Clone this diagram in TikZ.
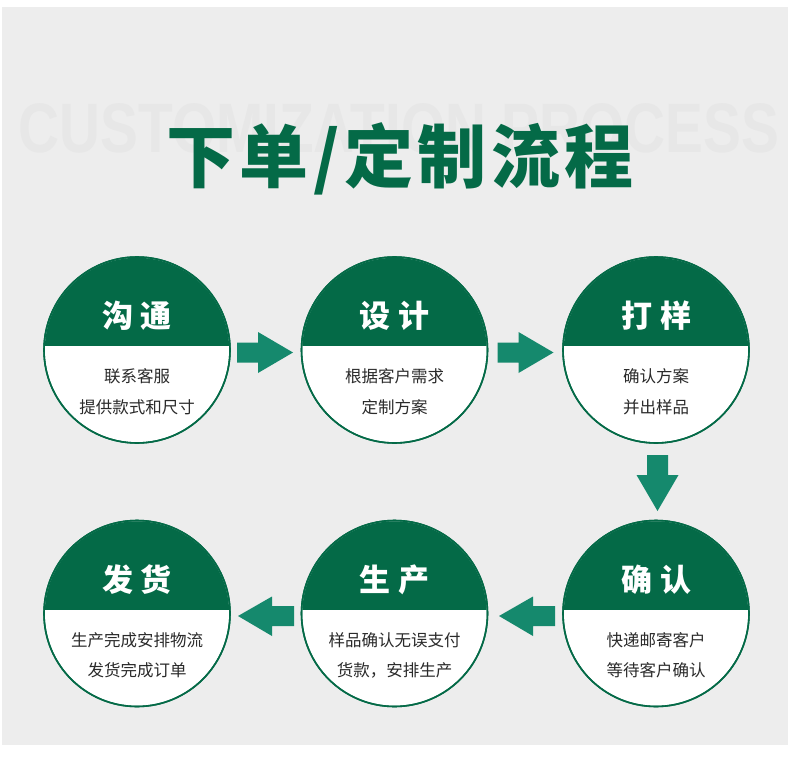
\documentclass[tikz,border=0pt]{standalone}
\usepackage{fontspec}
\newfontfamily\cjk{Noto Sans CJK SC}
\newfontfamily\cjkwide[LetterSpace=6.5]{Noto Sans CJK SC}
\newfontfamily\wmfont{Liberation Sans}
\definecolor{bggray}{HTML}{EDEDED}
\definecolor{wmgray}{HTML}{E7E7E7}
\definecolor{dgreen}{HTML}{046A47}
\definecolor{agreen}{HTML}{15896D}
\definecolor{bodytxt}{HTML}{2A2A2A}
\tikzset{
  stepcircle/.style={circle, draw=dgreen, line width=1.6pt, fill=white, minimum size=186pt, inner sep=0pt},
  headtxt/.style={text=white, font=\cjk\bfseries\fontsize{31}{31}\selectfont, inner sep=0pt},
  bodyline/.style={text=bodytxt, font=\cjk\fontsize{16.5}{16.5}\selectfont, inner sep=0pt},
  flowarrow/.style={fill=agreen, draw=none}
}
\newcommand{\stepnode}[6]{%
  \node[stepcircle] (#1) at (#2,#3) {};
  \begin{scope}
    \clip (#1.center) circle (92.2pt);
    \fill[dgreen] ([xshift=-100pt,yshift=4pt]#1.center) rectangle ([xshift=100pt,yshift=110pt]#1.center);
  \end{scope}
  \draw[dgreen, line width=1.6pt] (#1.center) circle (93pt);
  \node[headtxt] (#1h) at ([yshift=34pt]#1.center) {#4};
  \node[bodyline] (#1a) at ([yshift=-26.5pt]#1.center) {#5};
  \node[bodyline] (#1b) at ([yshift=-57pt]#1.center) {#6};
}
\begin{document}
\begin{tikzpicture}[x=1pt,y=-1pt]
\useasboundingbox (0,0) rectangle (790,763);
\fill[white] (0,0) rectangle (790,763);
\fill[bggray] (1.5,7) rectangle (788,745);
% watermark
\node[text=wmgray, font=\wmfont\bfseries\fontsize{70}{70}\selectfont, inner sep=0pt, xscale=0.81] (wm) at (399,128) {CUSTOMIZATION PROCESS};
% title
\node[text=dgreen, font=\cjkwide\bfseries\fontsize{69}{69}\selectfont, inner sep=0pt] (title) at (400,159) {下单/定制流程};
% steps
\stepnode{s1}{137}{350}{沟\hspace{8pt}通}{联系客服}{提供款式和尺寸}
\stepnode{s2}{394.5}{350}{设\hspace{8pt}计}{根据客户需求}{定制方案}
\stepnode{s3}{656}{350}{打\hspace{8pt}样}{确认方案}{并出样品}
\stepnode{s4}{656}{613.5}{确\hspace{8pt}认}{快递邮寄客户}{等待客户确认}
\stepnode{s5}{394.5}{613.5}{生\hspace{8pt}产}{样品确认无误支付}{货款，安排生产}
\stepnode{s6}{137}{613.5}{发\hspace{8pt}货}{生产完成安排物流}{发货完成订单}
% arrows s1->s2, s2->s3
\fill[flowarrow] (237,342.5) -- (258,342.5) -- (258,332) -- (293,352.5) -- (258,373) -- (258,362.5) -- (237,362.5) -- cycle;
\fill[flowarrow] (497.5,342.5) -- (518.5,342.5) -- (518.5,332) -- (553.5,352.5) -- (518.5,373) -- (518.5,362.5) -- (497.5,362.5) -- cycle;
% s3 -> s4
\fill[flowarrow] (647,455) -- (668,455) -- (668,475) -- (678.5,475) -- (657.5,511) -- (636.5,475) -- (647,475) -- cycle;
% s4 -> s5, s5 -> s6
\fill[flowarrow] (555,606) -- (533,606) -- (533,596.5) -- (499,616) -- (533,636) -- (533,626) -- (555,626) -- cycle;
\fill[flowarrow] (294,606) -- (272,606) -- (272,596.5) -- (238,616) -- (272,636) -- (272,626) -- (294,626) -- cycle;
\end{tikzpicture}
\end{document}
